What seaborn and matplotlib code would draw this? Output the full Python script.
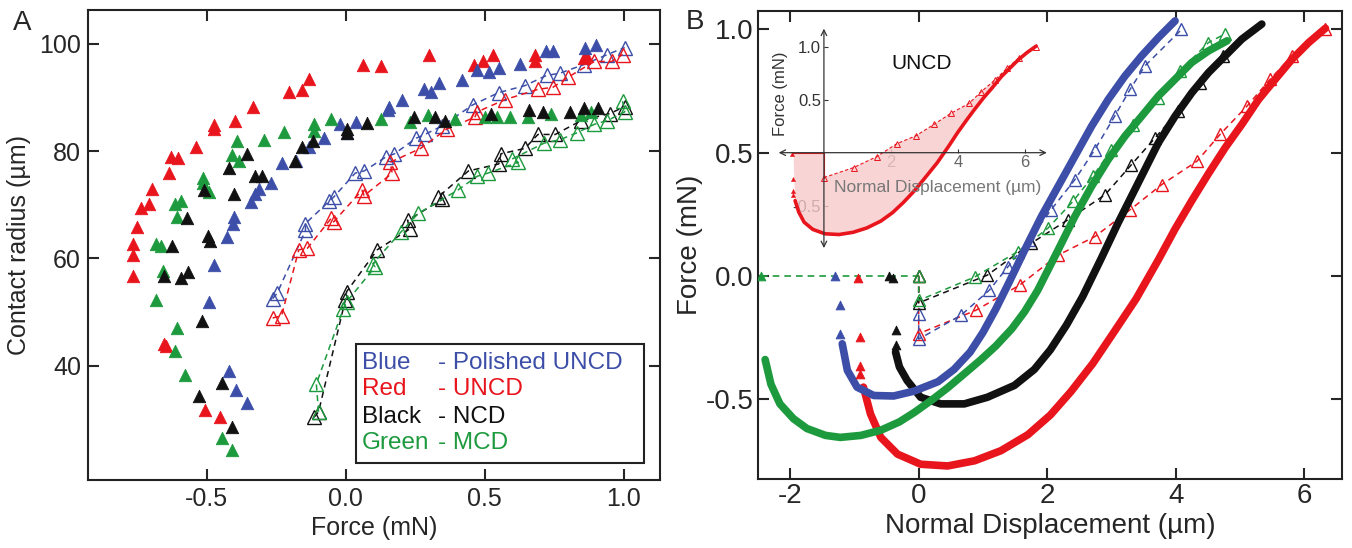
import numpy as np
import matplotlib
matplotlib.use("Agg")
import matplotlib.pyplot as plt
import seaborn as sns

sns.set_style("ticks")
plt.rcParams['font.family'] = ['Liberation Sans', 'DejaVu Sans']
plt.rcParams['axes.unicode_minus'] = False

BLUE = "#3c4ea8"
RED = "#e8151d"
BLACK = "#111111"
GREEN = "#1e9a3e"

# ---------------- panel A: contact radius (um) vs force (mN) ----------------
a_red_x = [-0.767, -0.767, -0.767, -0.75, -0.736, -0.708, -0.697, -0.634, -0.629, -0.602, -0.539,
           -0.473, -0.473, -0.40, -0.333, -0.203, -0.156, -0.133, 0.063, 0.128, 0.30, 0.461, 0.495,
           0.531, 0.68, 0.68, 0.862, 0.855, -0.653, -0.645, -0.508, -0.453]
a_red_y = [56.7, 60.6, 62.6, 65.8, 69.4, 70.1, 73.0, 75.9, 78.9, 78.7, 80.8, 84.8, 84.1, 85.7, 88.3,
           91.1, 91.4, 93.5, 96.1, 95.8, 97.9, 96.0, 96.7, 98.0, 97.9, 96.7, 97.9, 97.4, 44.0, 43.7,
           31.7, 30.4]

a_blue_x = [0.719, 0.745, 0.859, 0.898, 0.628, 0.55, 0.516, 0.472, 0.417, 0.334, 0.308, 0.281, 0.203,
            0.156, 0.152, 0.038, -0.020, 0.003, -0.078, -0.133, -0.180, -0.231, -0.270, -0.313,
            -0.325, -0.340, -0.403, -0.406, -0.427, -0.473, -0.492, -0.419, -0.395, -0.356]
a_blue_y = [98.7, 98.7, 99.3, 99.7, 96.2, 95.4, 94.8, 95.1, 93.3, 92.7, 91.1, 91.5, 89.6, 88.3, 87.6,
            85.4, 85.0, 83.4, 82.4, 80.8, 78.2, 77.7, 74.0, 73.0, 72.0, 70.5, 67.8, 66.5, 63.9, 58.8,
            51.9, 39.0, 35.4, 33.0]

a_black_x = [0.855, 0.906, 0.805, 0.66, 0.709, 0.523, 0.355, 0.319, 0.245, 0.078, 0.003, 0.003,
             -0.119, -0.156, -0.184, -0.302, -0.325, -0.356, -0.419, -0.403, -0.509, -0.497, -0.489,
             -0.570, -0.567, -0.591, -0.625, -0.653, -0.516, -0.528, -0.445, -0.411]
a_black_y = [88.1, 88.1, 87.2, 87.6, 87.2, 87.0, 85.7, 86.3, 86.3, 85.2, 84.1, 83.3, 81.8, 80.8, 78.2,
             75.3, 75.3, 79.5, 76.9, 72.0, 72.7, 64.2, 63.2, 67.6, 57.4, 56.4, 62.3, 56.7, 48.3, 34.3,
             36.7, 28.6]

a_green_x = [0.883, 0.847, 0.738, 0.656, 0.589, 0.542, 0.50, 0.394, 0.297, 0.23, 0.128, -0.052,
             -0.114, -0.114, -0.223, -0.294, -0.391, -0.383, -0.411, -0.513, -0.513, -0.492, -0.594,
             -0.614, -0.606, -0.681, -0.666, -0.656, -0.681, -0.606, -0.614, -0.578, -0.445, -0.411]
a_green_y = [87.2, 86.7, 87.0, 86.3, 86.3, 86.3, 86.3, 86.0, 86.7, 85.4, 86.0, 86.0, 85.0, 83.7, 83.5,
             82.1, 81.8, 78.2, 79.3, 75.0, 74.0, 72.4, 70.7, 70.1, 67.8, 62.6, 62.3, 57.7, 52.2, 47.0,
             42.7, 38.2, 26.5, 24.2]

a_blue_open_x = [-0.263, -0.247, -0.145, -0.145, -0.059, -0.044, 0.034, 0.066, 0.144, 0.175, 0.253,
                 0.284, 0.347, 0.456, 0.55, 0.644, 0.722, 0.769, 0.855, 0.941, 1.003]
a_blue_open_y = [52.5, 53.5, 65.2, 66.5, 70.7, 71.4, 75.9, 76.3, 78.9, 79.5, 82.4, 83.1, 84.7, 88.6,
                 90.9, 92.2, 94.1, 94.5, 96.1, 98.0, 99.3]

a_red_open_x = [-0.263, -0.231, -0.169, -0.138, -0.052, -0.044, 0.058, 0.066, 0.167, 0.159, 0.269,
                0.363, 0.464, 0.472, 0.573, 0.691, 0.745, 0.80, 0.894, 0.956, 0.995]
a_red_open_y = [48.9, 49.3, 61.6, 61.9, 67.5, 66.8, 72.7, 71.7, 75.9, 77.9, 80.5, 84.1, 86.3, 87.3,
                89.6, 91.5, 91.9, 93.8, 96.7, 96.7, 98.0]

a_black_open_x = [-0.114, -0.098, -0.002, 0.003, 0.113, 0.23, 0.222, 0.347, 0.331, 0.441, 0.55,
                  0.558, 0.644, 0.691, 0.753, 0.847, 0.95, 1.003]
a_black_open_y = [30.4, 31.4, 52.2, 53.8, 61.6, 65.5, 67.1, 71.0, 71.4, 76.3, 77.6, 79.5, 80.5, 83.1,
                  83.1, 85.7, 87.0, 88.3]

a_green_open_x = [-0.098, -0.106, -0.009, 0.003, 0.105, 0.097, 0.198, 0.261, 0.402, 0.472, 0.511,
                  0.620, 0.597, 0.714, 0.769, 0.831, 0.894, 0.941, 1.003, 0.995]
a_green_open_y = [31.4, 36.6, 50.6, 51.9, 58.4, 59.0, 64.9, 68.4, 72.7, 75.3, 75.9, 77.9, 78.5, 81.5,
                  82.1, 83.4, 85.0, 85.7, 87.3, 89.3]

legend_names = ["Blue", "Red", "Black", "Green"]
legend_materials = ["- Polished UNCD", "- UNCD", "- NCD", "- MCD"]

# ---------------- panel B: force (mN) vs normal displacement (um) ----------------
b_blue_x = [-1.19, -1.11, -0.96, -0.70, -0.39, -0.07, 0.30, 0.55, 0.80, 1.00, 1.20, 1.40, 1.65,
            1.91, 2.17, 2.43, 2.69, 2.95, 3.21, 3.47, 3.73, 3.99]
b_blue_y = [-0.276, -0.384, -0.452, -0.486, -0.488, -0.468, -0.43, -0.38, -0.31, -0.23, -0.135,
            -0.03, 0.105, 0.241, 0.363, 0.485, 0.607, 0.716, 0.811, 0.893, 0.967, 1.035]

b_green_x = [-2.39, -2.30, -2.16, -1.95, -1.74, -1.45, -1.22, -0.90, -0.59, -0.30, -0.07, 0.20,
             0.45, 0.70, 0.97, 1.20, 1.45, 1.65, 1.85, 2.17, 2.43, 2.69, 2.95, 3.21, 3.47, 3.73,
             3.99, 4.25, 4.51, 4.80]
b_green_y = [-0.34, -0.44, -0.52, -0.58, -0.62, -0.648, -0.656, -0.648, -0.627, -0.593, -0.555,
             -0.505, -0.455, -0.40, -0.34, -0.285, -0.215, -0.145, -0.06, 0.105, 0.241, 0.363,
             0.472, 0.567, 0.648, 0.73, 0.798, 0.866, 0.913, 0.954]

b_black_x = [-0.36, -0.30, -0.18, 0.03, 0.34, 0.71, 1.07, 1.49, 1.80, 2.05, 2.30, 2.55, 2.84, 3.10,
             3.31, 3.52, 3.73, 3.99, 4.25, 4.51, 4.77, 5.03, 5.34]
b_black_y = [-0.31, -0.37, -0.425, -0.493, -0.52, -0.52, -0.493, -0.445, -0.38, -0.30, -0.20,
             -0.085, 0.07, 0.213, 0.322, 0.431, 0.54, 0.648, 0.743, 0.825, 0.893, 0.961, 1.022]

b_red_x = [-0.86, -0.75, -0.59, -0.33, 0.03, 0.45, 0.87, 1.28, 1.70, 2.05, 2.37, 2.71, 3.04, 3.38,
           3.73, 3.99, 4.25, 4.51, 4.77, 5.03, 5.29, 5.55, 5.81, 6.07, 6.33]
b_red_y = [-0.452, -0.561, -0.656, -0.724, -0.765, -0.772, -0.751, -0.71, -0.645, -0.565, -0.47,
           -0.356, -0.228, -0.095, 0.065, 0.19, 0.305, 0.415, 0.52, 0.615, 0.716, 0.798, 0.879,
           0.947, 1.005]

# unloading branches (open triangles, dashed)
b_green_open_x = [0, 0, 0.87, 1.54, 2.01, 2.40, 2.71, 3.00, 3.34, 3.73, 4.07, 4.51, 4.76]
b_green_open_y = [0.0, -0.10, -0.005, 0.098, 0.193, 0.302, 0.404, 0.512, 0.614, 0.723, 0.832, 0.947,
                  0.981]
b_black_open_x = [0, 0, 1.07, 1.75, 2.32, 2.90, 3.31, 3.68, 4.04, 4.38, 4.74]
b_black_open_y = [0.0, -0.11, 0.003, 0.132, 0.227, 0.329, 0.451, 0.56, 0.669, 0.784, 0.893]
b_blue_open_x = [0, 0, 0.66, 1.10, 1.39, 1.72, 2.06, 2.43, 2.74, 3.05, 3.29, 3.52, 4.09]
b_blue_open_y = [-0.157, -0.257, -0.16, -0.058, 0.037, 0.146, 0.268, 0.39, 0.512, 0.648, 0.757,
                 0.852, 1.0]
b_red_open_x = [0, 0, 0.89, 1.57, 2.17, 2.74, 3.29, 3.78, 4.33, 4.69, 5.11, 5.47, 5.81, 6.33]
b_red_open_y = [0.0, -0.235, -0.14, -0.038, 0.084, 0.159, 0.268, 0.37, 0.465, 0.574, 0.689, 0.798,
                0.893, 1.0]

# jump-in points (small filled triangles)
b_blue_jump_x = [-1.30, -1.22, -1.22]
b_blue_jump_y = [0.0, -0.12, -0.235]
b_red_jump_x = [-0.95, -0.91, -0.91, -0.91]
b_red_jump_y = [-0.01, -0.249, -0.365, -0.40]
b_black_jump_x = [-0.46, -0.40, -0.36, -0.36]
b_black_jump_y = [0.0, -0.01, -0.22, -0.28]
b_green_jump_x = [-2.45]
b_green_jump_y = [0.0]
b_approach_x = [-2.45, 0]
b_approach_y = [0.0, 0.0]

fig = plt.figure(figsize=(13.52, 5.48), dpi=100)
axA = fig.add_axes([0.0651, 0.1241, 0.4231, 0.8577])
axB = fig.add_axes([0.5607, 0.1259, 0.4320, 0.8540])


def filled(ax, x, y, color, s=80):
    sns.scatterplot(x=x, y=y, ax=ax, marker="^", s=s, color=color, edgecolor=color,
                    linewidth=0.6, zorder=3)


def open_dashed(ax, x, y, color, ms=10, lw=1.1):
    sns.lineplot(x=x, y=y, ax=ax, sort=False, estimator=None, color=color, lw=lw,
                 linestyle=(0, (4, 3)), marker="^", markersize=ms, markerfacecolor="none",
                 markeredgecolor=color, markeredgewidth=1.0, zorder=2)


# ---- panel A ----
for ox, oy, c in [(a_blue_open_x, a_blue_open_y, BLUE), (a_red_open_x, a_red_open_y, RED),
                  (a_black_open_x, a_black_open_y, BLACK), (a_green_open_x, a_green_open_y, GREEN)]:
    open_dashed(axA, ox, oy, c)
for fx, fy, c in [(a_red_x, a_red_y, RED), (a_blue_x, a_blue_y, BLUE),
                  (a_green_x, a_green_y, GREEN), (a_black_x, a_black_y, BLACK)]:
    filled(axA, fx, fy, c)

axA.set_xlim(-0.927, 1.13)
axA.set_ylim(18.7, 106.3)
axA.set_xticks([-0.5, 0.0, 0.5, 1.0])
axA.set_xticklabels(["-0.5", "0.0", "0.5", "1.0"])
axA.set_yticks([40, 60, 80, 100])
axA.set_xlabel("Force (mN)", fontsize=18, labelpad=4)
axA.set_ylabel("Contact radius (µm)", fontsize=18, labelpad=6)
axA.tick_params(labelsize=18, pad=5)

# text legend box
axA.add_patch(plt.Rectangle((0.4685, 0.036), 0.5035, 0.253, transform=axA.transAxes,
                            fill=False, lw=1.5, ec="#222", zorder=4))
rows_y = [0.249, 0.194, 0.134, 0.079]
for name, mat, c, yy in zip(legend_names, legend_materials, [BLUE, RED, BLACK, GREEN], rows_y):
    axA.text(0.4785, yy, name, color=c, fontsize=17.5, transform=axA.transAxes, va="center")
    axA.text(0.612, yy, mat, color=c, fontsize=17.5, transform=axA.transAxes, va="center")

# ---- panel B ----
sns.lineplot(x=b_approach_x, y=b_approach_y, ax=axB, color=GREEN, lw=1.2,
             linestyle=(0, (4, 3)), sort=False, estimator=None)
for ox, oy, c in [(b_red_open_x, b_red_open_y, RED), (b_blue_open_x, b_blue_open_y, BLUE),
                  (b_black_open_x, b_black_open_y, BLACK), (b_green_open_x, b_green_open_y, GREEN)]:
    open_dashed(axB, ox, oy, c, ms=8)
for tx, ty, c in [(b_red_x, b_red_y, RED), (b_black_x, b_black_y, BLACK),
                  (b_green_x, b_green_y, GREEN), (b_blue_x, b_blue_y, BLUE)]:
    sns.lineplot(x=tx, y=ty, ax=axB, sort=False, estimator=None, color=c, lw=5.5,
                 solid_capstyle="round", solid_joinstyle="round", zorder=3)
for jx, jy, c in [(b_blue_jump_x, b_blue_jump_y, BLUE), (b_red_jump_x, b_red_jump_y, RED),
                  (b_black_jump_x, b_black_jump_y, BLACK), (b_green_jump_x, b_green_jump_y, GREEN)]:
    filled(axB, jx, jy, c, s=40)

axB.set_xlim(-2.5, 6.59)
axB.set_ylim(-0.825, 1.075)
axB.set_xticks([-2, 0, 2, 4, 6])
axB.set_yticks([-0.5, 0.0, 0.5, 1.0])
axB.set_yticklabels(["-0.5", "0.0", "0.5", "1.0"])
axB.set_xlabel("Normal Displacement (µm)", fontsize=20, labelpad=3)
axB.set_ylabel("Force (mN)", fontsize=20, labelpad=2)
axB.tick_params(labelsize=20, pad=3)

for ax in (axA, axB):
    for sp in ax.spines.values():
        sp.set_linewidth(1.5)
        sp.set_color("#222")
    ax.tick_params(direction="in", length=8, width=1.5, top=True, right=True)

# ---- inset (UNCD) ----
axI = fig.add_axes([0.5747, 0.5376, 0.2008, 0.4159])
axI.patch.set_alpha(0)
shade_x = [-0.91, 0, 0] + b_red_open_x[1:] + b_red_x[::-1]
shade_y = [0.0, 0.0, -0.235] + b_red_open_y[1:] + b_red_y[::-1]
axI.fill(shade_x, shade_y, color="#f7caca", alpha=0.8, lw=0, zorder=1)
sns.lineplot(x=[-0.95, 0, 0], y=[0.0, 0.0, -0.235], ax=axI, color=RED, lw=0.8, sort=False,
             estimator=None)
sns.lineplot(x=b_red_open_x[1:], y=b_red_open_y[1:], ax=axI, sort=False, estimator=None,
             color=RED, lw=0.8, linestyle=(0, (3, 2)), marker="^", markersize=4,
             markerfacecolor="none", markeredgecolor=RED, markeredgewidth=0.7)
sns.lineplot(x=b_red_x, y=b_red_y, ax=axI, sort=False, estimator=None, color=RED, lw=2.6,
             solid_joinstyle="round", zorder=3)
sns.scatterplot(x=b_red_jump_x, y=b_red_jump_y, ax=axI, marker="^", s=10, color=RED,
                edgecolor=RED, zorder=3)
axI.set_xlim(-1.4, 6.7)
axI.set_ylim(-0.95, 1.2)
for side in ("top", "right"):
    axI.spines[side].set_visible(False)
for side in ("left", "bottom"):
    axI.spines[side].set_position(("data", 0))
    axI.spines[side].set_visible(False)
axI.annotate("", xy=(6.65, 0), xytext=(-1.35, 0),
             arrowprops=dict(arrowstyle="<->", lw=0.9, color="#333", shrinkA=0, shrinkB=0))
axI.annotate("", xy=(0, 1.17), xytext=(0, -0.9),
             arrowprops=dict(arrowstyle="<->", lw=0.9, color="#333", shrinkA=0, shrinkB=0))
axI.set_xticks([2, 4, 6])
axI.set_yticks([-0.5, 0.5, 1.0])
axI.set_yticklabels(["-0.5", "0.5", "1.0"])
axI.tick_params(axis="x", direction="in", length=3, width=0.8, labelsize=12, labelcolor="#666",
                color="#333", pad=2)
axI.tick_params(axis="y", direction="in", length=3, width=0.8, labelsize=12, labelcolor="#333",
                color="#333", pad=2)
axI.text(-1.3, 0.56, "Force (mN)", rotation=90, fontsize=12, color="#333", ha="center", va="center")
axI.text(3.4, -0.333, "Normal Displacement (µm)", fontsize=12.5, color="#777", ha="center",
         va="center")
axI.text(2.93, 0.846, "UNCD", fontsize=15, color="#111", ha="center", va="center")
axI.set_xlabel("")
axI.set_ylabel("")

fig.text(0.0163, 0.958, "A", fontsize=20, ha="center", va="center")
fig.text(0.514, 0.96, "B", fontsize=20, ha="center", va="center")

fig.savefig("out.png", dpi=100)
